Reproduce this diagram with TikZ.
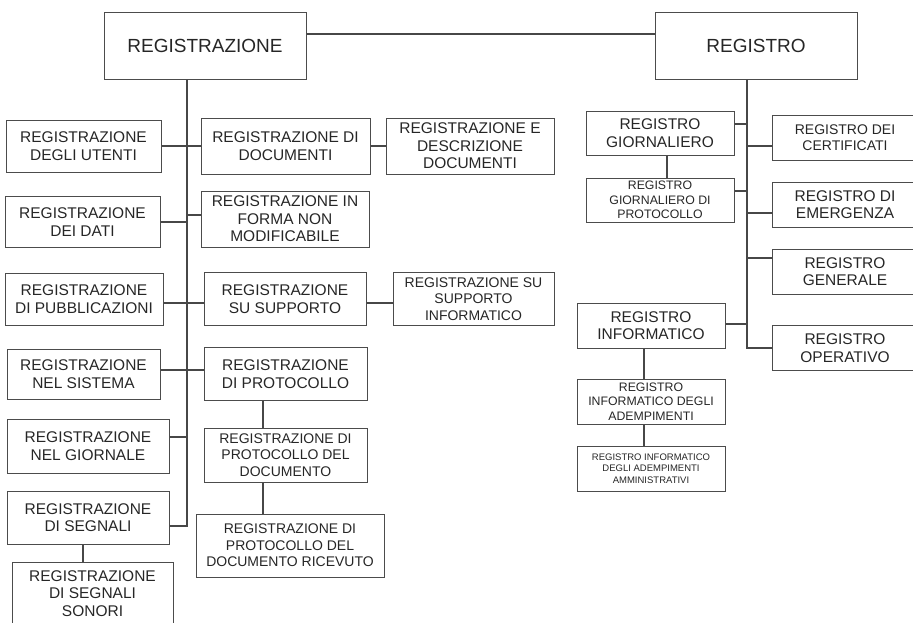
\documentclass[tikz,border=0pt]{standalone}
\usepackage{fontspec}
\setmainfont{Liberation Sans}
\usepackage{tikz}
\usetikzlibrary{calc, positioning}

\begin{document}
\begin{tikzpicture}[x=1pt, y=-1pt,
    box/.style={draw=black!70, line width=1pt, inner sep=0pt, align=center,
                text=black!85, font=\fontsize{15.5}{17.5}\selectfont},
    title/.style={box, minimum width=202pt, minimum height=67pt,
                  font=\fontsize{19}{22}\selectfont},
    mid/.style={font=\fontsize{14}{16.5}\selectfont},
    tiny/.style={font=\fontsize{12.3}{14.5}\selectfont},
    micro/.style={font=\fontsize{9.5}{11.7}\selectfont},
    con/.style={draw=black!72, line width=1.1pt}
  ]
    \useasboundingbox (0,0) rectangle (913,622);
    \clip (0,0) rectangle (913,622);

    \node[title] (reg)   at (205,45.5) {REGISTRAZIONE};
    \node[title] (regtr) at (756,45.5) {REGISTRO};

    % left column
    \node[box, minimum width=155pt, minimum height=52pt] (utenti)   at (83.5,146) {REGISTRAZIONE\\DEGLI UTENTI};
    \node[box, minimum width=155pt, minimum height=51pt] (dati)     at (82.5,222) {REGISTRAZIONE\\DEI DATI};
    \node[box, minimum width=158pt, minimum height=52pt] (pubbl)    at (84,299)   {REGISTRAZIONE\\DI PUBBLICAZIONI};
    \node[box, minimum width=153pt, minimum height=50pt] (sistema)  at (83.5,374) {REGISTRAZIONE\\NEL SISTEMA};
    \node[box, minimum width=162pt, minimum height=54pt] (giornale) at (88,446)   {REGISTRAZIONE\\NEL GIORNALE};
    \node[box, minimum width=162pt, minimum height=53pt] (segnali)  at (88,517.5) {REGISTRAZIONE\\DI SEGNALI};
    \node[box, minimum width=161pt, minimum height=63pt] (sonori)   at (92.5,593.5) {REGISTRAZIONE\\DI SEGNALI\\SONORI};

    % middle column
    \node[box, minimum width=169pt, minimum height=56pt] (documenti) at (285.5,146) {REGISTRAZIONE DI\\DOCUMENTI};
    \node[box, minimum width=168pt, minimum height=56pt] (descr)     at (470,146)   {REGISTRAZIONE E\\DESCRIZIONE\\DOCUMENTI};
    \node[box, minimum width=168pt, minimum height=56pt] (forma)     at (285,219)   {REGISTRAZIONE IN\\FORMA NON\\MODIFICABILE};
    \node[box, minimum width=162pt, minimum height=53pt] (supporto)  at (285,299)   {REGISTRAZIONE\\SU SUPPORTO};
    \node[box, mid, minimum width=161pt, minimum height=53pt] (suppinfo) at (473.5,299) {REGISTRAZIONE SU\\SUPPORTO\\INFORMATICO};
    \node[box, minimum width=163pt, minimum height=53pt] (protocollo) at (285.5,374) {REGISTRAZIONE\\DI PROTOCOLLO};
    \node[box, mid, minimum width=163pt, minimum height=54pt] (protdoc) at (285.5,455) {REGISTRAZIONE DI\\PROTOCOLLO DEL\\DOCUMENTO};
    \node[box, mid, minimum width=188pt, minimum height=63pt] (ricevuto) at (290,545.5) {REGISTRAZIONE DI\\PROTOCOLLO DEL\\DOCUMENTO RICEVUTO};

    % right side
    \node[box, minimum width=148pt, minimum height=44pt] (giorn)     at (660,133) {REGISTRO\\GIORNALIERO};
    \node[box, tiny, minimum width=148pt, minimum height=44pt] (giornprot) at (660,200) {REGISTRO\\GIORNALIERO DI\\PROTOCOLLO};
    \node[box, minimum width=148pt, minimum height=45pt] (informatico) at (651,325.5) {REGISTRO\\INFORMATICO};
    \node[box, tiny, minimum width=148pt, minimum height=45pt] (adempi) at (651,401.5) {REGISTRO\\INFORMATICO DEGLI\\ADEMPIMENTI};
    \node[box, micro, minimum width=148pt, minimum height=45pt] (ammin) at (651,468.5) {REGISTRO INFORMATICO\\DEGLI ADEMPIMENTI\\AMMINISTRATIVI};

    \node[box, mid, minimum width=146pt, minimum height=45pt] (certif) at (845,137.5) {REGISTRO DEI\\CERTIFICATI};
    \node[box, minimum width=146pt, minimum height=45pt] (emerg)     at (845,204.5) {REGISTRO DI\\EMERGENZA};
    \node[box, minimum width=146pt, minimum height=45pt] (generale)  at (845,271.5) {REGISTRO\\GENERALE};
    \node[box, minimum width=146pt, minimum height=45pt] (operativo) at (845,348)   {REGISTRO\\OPERATIVO};

    \coordinate (link)   at (0,34);
    \coordinate (trunkL) at (187,0);
    \coordinate (trunkR) at (747,0);
    \coordinate (stemP)  at (263,0);

    \draw[con] (reg.east |- link) -- (regtr.west |- link);

    % left tree
    \draw[con] (reg.south -| trunkL) |- ([yshift=-8.5pt]segnali.east);
    \draw[con] (utenti) -- (documenti);
    \draw[con] (documenti) -- (descr);
    \draw[con] (dati.east) -- (dati.east -| trunkL);
    \draw[con] ([yshift=4pt]forma.west -| trunkL) -- ([yshift=4pt]forma.west);
    \draw[con] ([yshift=-4pt]pubbl.east) -- ([yshift=-4pt]supporto.west);
    \draw[con] ([yshift=-4pt]supporto.east) -- ([yshift=-4pt]suppinfo.west);
    \draw[con] ([yshift=4pt]sistema.east) -- ([yshift=4pt]protocollo.west);
    \draw[con] ([yshift=9pt]giornale.east) -- ([yshift=9pt]giornale.east -| trunkL);
    \draw[con] (protocollo.south -| stemP) -- (protdoc.north -| stemP);
    \draw[con] (protdoc.south -| stemP) -- (ricevuto.north -| stemP);
    \draw[con] ([xshift=-5pt]segnali.south) -- ([xshift=-5pt]segnali.south |- sonori.north);

    % right tree
    \draw[con] (regtr.south -| trunkR) |- (operativo.west);
    \draw[con] ([yshift=9pt]giorn.east) -- ([yshift=9pt]giorn.east -| trunkR);
    \draw[con] ([yshift=9pt]giornprot.east) -- ([yshift=9pt]giornprot.east -| trunkR);
    \draw[con] ([yshift=1.5pt]informatico.east) -- ([yshift=1.5pt]informatico.east -| trunkR);
    \draw[con] ([yshift=-8.5pt]certif.west -| trunkR) -- ([yshift=-8.5pt]certif.west);
    \draw[con] ([yshift=-8.5pt]emerg.west -| trunkR) -- ([yshift=-8.5pt]emerg.west);
    \draw[con] ([yshift=13.5pt]generale.west -| trunkR) -- ([yshift=13.5pt]generale.west);
    \draw[con] ([xshift=7pt]giorn.south) -- ([xshift=7pt]giornprot.north);
    \draw[con] ([xshift=-7pt]informatico.south) -- ([xshift=-7pt]adempi.north);
    \draw[con] ([xshift=-7pt]adempi.south) -- ([xshift=-7pt]ammin.north);
  \end{tikzpicture}
\end{document}
